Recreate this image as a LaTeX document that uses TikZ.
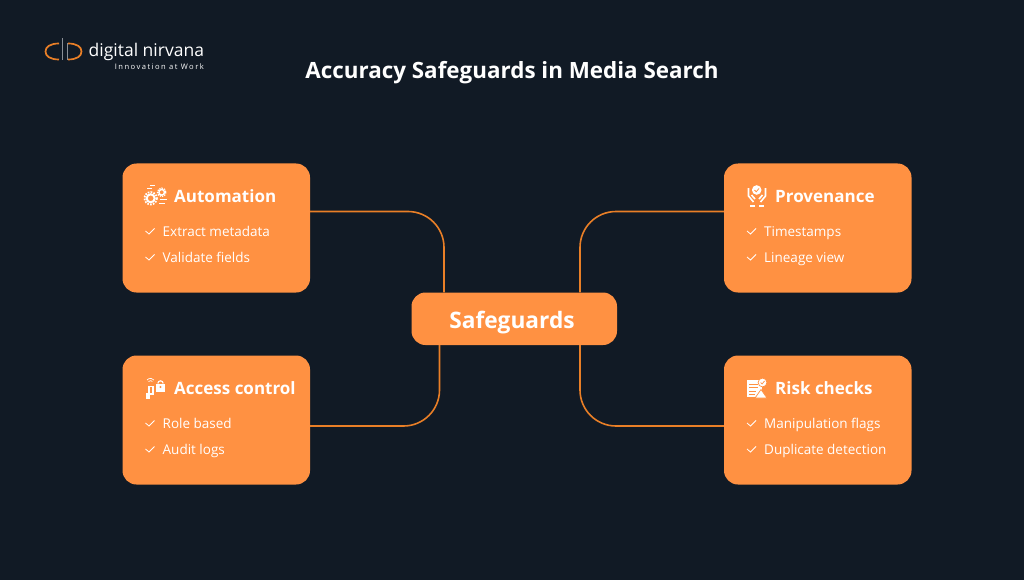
\documentclass[tikz,border=0pt]{standalone}
\usepackage{fontspec}
\setmainfont{Open Sans}
\newfontfamily\tagfont[LetterSpace=19]{Open Sans}
\usetikzlibrary{positioning}

\definecolor{pagebg}{HTML}{111A25}
\definecolor{cardfill}{HTML}{FF9142}
\definecolor{linkcol}{HTML}{E97F27}
\definecolor{logogrey}{HTML}{8A8F96}

\tikzset{
  card/.style={fill=cardfill, rounded corners=14pt, minimum width=187.5pt, minimum height=129pt, inner sep=0pt},
  hub/.style={fill=cardfill, rounded corners=14pt, minimum width=205.5pt, minimum height=52.5pt, inner sep=0pt},
  hubtext/.style={text=white, anchor=base, inner sep=0pt, font=\fontsize{22.7}{27}\selectfont\bfseries},
  cardtitle/.style={text=white, anchor=base west, inner sep=0pt, font=\fontsize{17}{20}\selectfont\bfseries},
  item/.style={text=white, anchor=base west, inner sep=0pt, font=\fontsize{13.5}{16}\selectfont},
  link/.style={draw=linkcol, line width=1.6pt, rounded corners=36pt},
  tick/.style={draw=white, line width=0.8pt},
  glyph/.style={draw=white, line width=1.1pt},
  check/.pic={\draw[tick] (-4.5,0) -- (-1,3) -- (4.5,-2.5);}
}

\begin{document}
\begin{tikzpicture}[x=1pt, y=-1pt]
  \fill[pagebg] (0,0) rectangle (1024,580);
  \useasboundingbox (0,0) rectangle (1024,580);

  \node (title) [text=white, anchor=base, inner sep=0pt, font=\fontsize{22.4}{27}\selectfont\bfseries] at (512,78.5) {Accuracy Safeguards in Media Search};

  % logo
  \draw[linkcol, line width=1.7pt] (59,43.5) .. controls (50,43.5) and (45.5,47) .. (45.5,51.5) .. controls (45.5,56) and (50,59.5) .. (59,59.5);
  \draw[linkcol, line width=1.7pt] (68,43.5) .. controls (77,43.5) and (81.5,47) .. (81.5,51.5) .. controls (81.5,56) and (77,59.5) .. (68,59.5);
  \draw[logogrey, line width=0.8pt] (62.5,38) -- (62.5,60);
  \draw[logogrey, line width=0.8pt] (67,43) -- (67,60);
  \node (brand) [text=white, anchor=base west, inner sep=0pt, font=\fontsize{17.5}{21}\selectfont] at (88.5,57) {digital nirvana};
  \node (motto) [text=white, anchor=base east, inner sep=0pt, font=\fontsize{7.6}{9}\selectfont\tagfont] at (204,70) {Innovation at Work};

  \node (auto) [card] at (216.25,228) {};
  \node (access) [card] at (216.25,420) {};
  \node (prov) [card] at (817.75,228) {};
  \node (risk) [card] at (817.75,420) {};
  \node (safe) [hub] at (514.25,318.75) {};
  \node (safelabel) [hubtext] at (512,328) {Safeguards};

  \draw[link] ([yshift=16.5pt]auto.east) -| ([xshift=-70.25pt]safe.north);
  \draw[link] ([yshift=-6pt]access.east) -| ([xshift=-74.75pt]safe.south);
  \draw[link] ([yshift=16.5pt]prov.west) -| ([xshift=65.75pt]safe.north);
  \draw[link] ([yshift=-6pt]risk.west) -| ([xshift=65.75pt]safe.south);

  \node (autohead) [cardtitle] at (174,202.5) {Automation};
  \node (autoa) [item] at (162.5,236.3) {Extract metadata};
  \node (autob) [item] at (162.5,262.5) {Validate fields};
  \pic at (150,231) {check};
  \pic at (150,257) {check};

  \node (accesshead) [cardtitle] at (174,394.5) {Access control};
  \node (accessa) [item] at (162.5,428.3) {Role based};
  \node (accessb) [item] at (162.5,454.5) {Audit logs};
  \pic at (150,423) {check};
  \pic at (150,449) {check};

  \node (provhead) [cardtitle] at (775,202.5) {Provenance};
  \node (prova) [item] at (764,236.3) {Timestamps};
  \node (provb) [item] at (764,262.5) {Lineage view};
  \pic at (751.5,231) {check};
  \pic at (751.5,257) {check};

  \node (riskhead) [cardtitle] at (775,394.5) {Risk checks};
  \node (riska) [item] at (764,428.3) {Manipulation flags};
  \node (riskb) [item] at (764,454.5) {Duplicate detection};
  \pic at (751.5,423) {check};
  \pic at (751.5,449) {check};

  % automation icon
  \draw[white, line width=1.8pt, dash pattern=on 1.6pt off 1.3pt] (150.7,198.3) circle (6.2);
  \draw[glyph, line width=2pt] (150.7,198.3) circle (4);
  \draw[white, line width=1.3pt, dash pattern=on 1.3pt off 1.1pt] (161.7,192.3) circle (4.2);
  \draw[glyph, line width=1.4pt] (161.7,192.3) circle (2.8);
  \draw[white, line width=0.6pt] (147,188) -- (152,188) (150,185.5) -- (155,185.5) (160,199) -- (166.5,199) (159,203.5) -- (165,203.5);

  % access icon
  \fill[white] (156,383.5) rectangle (165,391.5);
  \draw[glyph] (157.8,383.5) arc (180:360:2.7);
  \fill[cardfill] (160.5,387) circle (1.1);
  \fill[white] (148,385.5) rectangle (153.5,395);
  \fill[cardfill] (149.5,387) rectangle (152,392.5);
  \fill[white] (145.5,392.5) rectangle (150,398.5);
  \draw[white, line width=0.7pt] (148.5,381.5) arc (220:320:2.5) (147,380) arc (220:320:4.5);

  % provenance icon
  \fill[white] (756.7,190) circle (4.8);
  \draw[draw=cardfill, line width=0.8pt] (754.5,190) -- (756.2,191.8) -- (759,188.5);
  \draw[glyph, line width=1.6pt] (748.5,188) -- (748.5,196) -- (753.5,202) (755,199) -- (751.5,195);
  \draw[glyph, line width=1.6pt] (765.5,188) -- (765.5,196) -- (760.5,202) (759,199) -- (762.5,195);
  \draw[white, line width=2pt] (750,205.5) -- (755,205.5) (759,205.5) -- (764,205.5);

  % risk icon
  \fill[white] (747,380) rectangle (762,397);
  \draw[cardfill, line width=0.8pt] (749,384) -- (758,384) (749,387.5) -- (758,387.5) (749,391) -- (756,391) (749,394.5) -- (755,394.5);
  \fill[white, draw=cardfill, line width=0.7pt] (762.5,382.5) circle (4.4);
  \draw[draw=cardfill, line width=0.7pt] (760.5,382.5) -- (762,384) -- (764.5,381);
  \fill[white, draw=cardfill, line width=0.7pt] (761,389.5) -- (767,398) -- (755,398) -- cycle;
\end{tikzpicture}
\end{document}
